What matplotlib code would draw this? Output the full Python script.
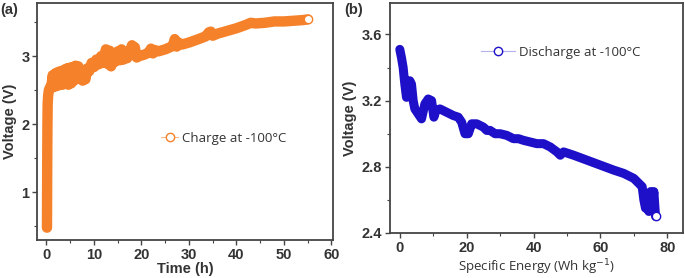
import matplotlib.pyplot as plt
from matplotlib.lines import Line2D
from matplotlib.ticker import MultipleLocator

# (a) charge curve at -100 C (noisy stretches follow the band's upper/lower edges)
time_h = [0.1, 0.12, 0.15, 0.2, 0.25, 0.35, 0.5, 0.8,
          1.0, 1.3, 1.6, 1.9, 2.2, 2.5, 2.8, 3.1, 3.4, 3.7, 4.0, 4.3, 4.6, 4.9,
          5.2, 5.5, 5.8, 6.1, 6.4, 6.7, 7.0, 7.3, 7.6, 7.9, 8.2, 8.6, 9.0, 9.5,
          10.0, 10.5, 11.0, 11.5, 12.0, 12.5, 13.0, 13.3, 13.6, 14.0, 14.5, 15.0,
          15.5, 15.8, 16.2, 16.6, 17.0, 17.5, 18.0, 18.3, 18.6, 19.0, 19.5, 20.5,
          21.5, 22.0, 22.4, 22.8, 23.5, 25.0, 26.0, 26.6, 27.0, 27.4, 27.8, 28.5,
          30.0, 32.0, 33.5, 34.2, 34.6, 35.0, 36.0, 38.0, 40.0, 42.0, 43.0, 44.0,
          46.0, 48.0, 50.0, 52.0, 54.0, 55.0]
charge_v = [0.48, 0.8, 1.4, 2.0, 2.3, 2.42, 2.5, 2.55,
            2.53, 2.72, 2.55, 2.75, 2.56, 2.77, 2.58, 2.78, 2.58, 2.8, 2.6, 2.82,
            2.58, 2.83, 2.6, 2.84, 2.64, 2.86, 2.68, 2.85, 2.68, 2.76, 2.64, 2.74,
            2.66, 2.82, 2.78, 2.9, 2.84, 2.95, 2.88, 3.0, 2.9, 3.1, 2.88, 3.08,
            2.85, 2.98, 2.92, 3.07, 2.94, 3.1, 2.95, 3.03, 2.97, 3.06, 3.16,
            3.02, 3.13, 2.98, 3.0, 3.02, 3.05, 3.11, 3.04, 3.09, 3.07, 3.1, 3.13,
            3.15, 3.25, 3.14, 3.2, 3.17, 3.2, 3.25, 3.29, 3.35, 3.36, 3.3, 3.33,
            3.37, 3.41, 3.46, 3.49, 3.48, 3.49, 3.51, 3.51, 3.52, 3.53, 3.54]

# (b) discharge curve at -100 C
energy = [0.0, 0.5, 1.0, 1.5, 2.0, 2.5, 3.0, 3.5, 4.0, 4.5, 5.5, 6.5, 7.5, 8.5, 9.5,
          10.2, 10.8, 12.0, 14.0, 16.0, 17.5, 18.5, 19.5, 20.5, 21.5, 23.0, 25.0,
          26.0, 27.0, 28.5, 30.0, 32.0, 34.0, 35.5, 37.0, 39.0, 41.0, 43.0, 45.0,
          47.0, 48.0, 49.0, 52.0, 56.0, 60.0, 64.0, 67.0, 70.0, 71.5, 72.5, 73.0,
          73.5, 74.0, 74.5, 75.0, 75.5, 76.0, 76.5]
discharge_v = [3.51, 3.46, 3.40, 3.3, 3.22, 3.25, 3.32, 3.3, 3.2, 3.15, 3.12, 3.09,
               3.18, 3.21, 3.2, 3.1, 3.14, 3.15, 3.13, 3.11, 3.1, 3.07, 3.0, 3.0,
               3.06, 3.06, 3.04, 3.02, 3.02, 3.0, 3.0, 2.99, 2.97, 2.97, 2.96, 2.95,
               2.94, 2.94, 2.92, 2.89, 2.87, 2.89, 2.87, 2.84, 2.81, 2.78, 2.76,
               2.73, 2.7, 2.68, 2.6, 2.55, 2.63, 2.53, 2.65, 2.55, 2.65, 2.5]

orange = "#f5822a"
blue = "#1d10c8"
dark = "#333333"
bold_font = ["Liberation Sans", "DejaVu Sans"]

plt.rcParams["font.family"] = ["Open Sans", "DejaVu Sans"]
plt.rcParams["text.color"] = dark
plt.rcParams["axes.labelcolor"] = dark

fig = plt.figure(figsize=(6.85, 2.78), dpi=100)
ax1 = fig.add_axes([0.054, 0.137, 0.432, 0.852])
ax2 = fig.add_axes([0.569, 0.162, 0.428, 0.827])


def style_axes(ax):
    for s in ax.spines.values():
        s.set_color("#444444")
        s.set_linewidth(1.3)
    ax.tick_params(which="both", direction="out", color="#444444",
                   labelcolor=dark, labelsize=10.5)
    ax.tick_params(which="major", length=3.5, width=1.0, pad=2)
    ax.tick_params(which="minor", length=2, width=0.8)
    for lab in ax.get_xticklabels() + ax.get_yticklabels():
        lab.set_fontweight("bold")
        lab.set_family(bold_font)


# panel a
ax1.plot(time_h, charge_v, color=orange, lw=7.5, solid_capstyle="round",
         solid_joinstyle="round")
ax1.plot(time_h[-1], charge_v[-1], "o", ms=6, mfc="white", mec=orange, mew=1)
ax1.set_xlim(-2, 60.3)
ax1.set_ylim(0.3, 3.78)
ax1.xaxis.set_major_locator(MultipleLocator(10))
ax1.xaxis.set_minor_locator(MultipleLocator(5))
ax1.yaxis.set_major_locator(MultipleLocator(1))
ax1.yaxis.set_minor_locator(MultipleLocator(0.5))
ax1.set_xlabel("Time (h)", fontsize=10.5, fontweight="bold", family=bold_font,
               labelpad=0)
ax1.set_ylabel("Voltage (V)", fontsize=10.5, fontweight="bold", family=bold_font,
               labelpad=3)
style_axes(ax1)
h1 = Line2D([], [], color="#f9b98a", lw=0.8, marker="o", ms=6, mfc="white",
            mec=orange, mew=1)
ax1.legend([h1], ["Charge at -100\u00b0C"], loc="center left",
           bbox_to_anchor=(0.38, 0.43), frameon=False, fontsize=9.5,
           handlelength=1.3, handletextpad=0.3)

# panel b
ax2.plot(energy, discharge_v, color=blue, lw=6.5, solid_capstyle="round",
         solid_joinstyle="round")
ax2.plot(energy[-1], discharge_v[-1], "o", ms=6, mfc="white", mec=blue, mew=1)
ax2.set_xlim(-3, 84.7)
ax2.set_ylim(2.4, 3.79)
ax2.xaxis.set_major_locator(MultipleLocator(20))
ax2.xaxis.set_minor_locator(MultipleLocator(10))
ax2.yaxis.set_major_locator(MultipleLocator(0.4))
ax2.yaxis.set_minor_locator(MultipleLocator(0.2))
ax2.yaxis.set_major_formatter(plt.FormatStrFormatter("%.1f"))
ax2.set_xlabel("Specific Energy (Wh kg$^{-1}$)", fontsize=9.5, labelpad=2)
ax2.set_ylabel("Voltage (V)", fontsize=10.5, fontweight="bold", family=bold_font,
               labelpad=3)
style_axes(ax2)
h2 = Line2D([], [], color="#b5b0ee", lw=0.8, marker="o", ms=6, mfc="white",
            mec=blue, mew=1)
ax2.legend([h2], ["Discharge at -100\u00b0C"], loc="center left",
           bbox_to_anchor=(0.27, 0.785), frameon=False, fontsize=9.5,
           handlelength=2.6, handletextpad=0.3)

fig.text(0.0, 0.99, "(a)", fontsize=10.5, fontweight="bold", family=bold_font,
         va="top")
fig.text(0.503, 0.99, "(b)", fontsize=10.5, fontweight="bold", family=bold_font,
         va="top")

fig.savefig("out.png", dpi=100)
